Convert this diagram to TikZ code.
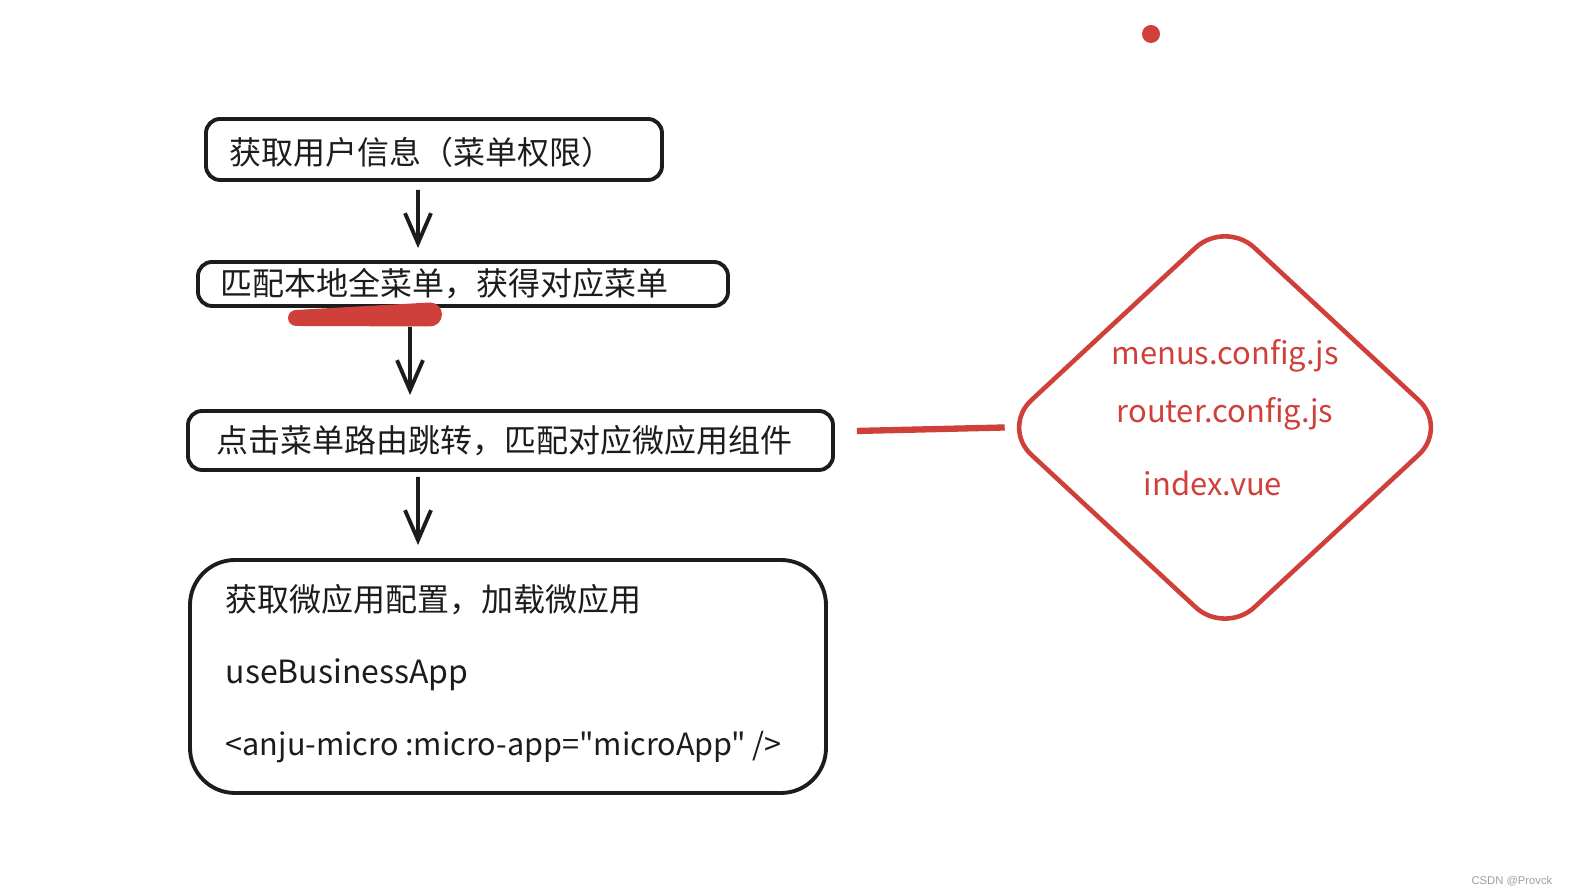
\documentclass[tikz,border=0pt]{standalone}
\usepackage{fontspec}
\newfontfamily\zhfont{Noto Sans CJK SC}
\newfontfamily\creditfont{Liberation Sans}
\usetikzlibrary{arrows.meta,shapes.geometric}
\definecolor{sketchink}{RGB}{28,28,28}
\definecolor{sketchred}{RGB}{207,64,58}

\begin{document}
\begin{tikzpicture}[x=1cm,y=1cm,font=\zhfont\fontsize{9.1}{11}\selectfont,
  stepbox/.style={draw=sketchink,line width=1.1pt,rounded corners=4pt,inner sep=0pt},
  steptext/.style={anchor=west,inner sep=0pt,text=sketchink},
  flowarrow/.style={draw=sketchink,line width=1.1pt,-{Straight Barb[length=0.3cm,width=0.26cm]}},
  cfgdiamond/.style={diamond,draw=sketchred,line width=1.3pt,rounded corners=0.4cm,inner sep=0pt,minimum width=4.48cm,minimum height=4.16cm},
  cfgtext/.style={text=sketchred,align=center,inner sep=0pt,font=\zhfont\fontsize{8.8}{16.5}\selectfont},
  redlink/.style={draw=sketchred,line width=1.8pt}]

\useasboundingbox (0,0) rectangle (15.70,8.96);

\node[stepbox,minimum width=4.56cm,minimum height=0.61cm] (userinfo) at (4.34,7.465) {};
\node[steptext] (userinfo text) at ([xshift=0.25cm,yshift=-0.03cm]userinfo.west) {获取用户信息（菜单权限）};

\node[stepbox,minimum width=5.30cm,minimum height=0.44cm] (menumatch) at (4.63,6.12) {};
\node[steptext] (menumatch text) at ([xshift=0.24cm]menumatch.west) {匹配本地全菜单，获得对应菜单};

\node[stepbox,minimum width=6.45cm,minimum height=0.59cm] (routejump) at (5.105,4.555) {};
\node[steptext] (routejump text) at ([xshift=0.30cm]routejump.west) {点击菜单路由跳转，匹配对应微应用组件};

\node[stepbox,rounded corners=0.45cm,minimum width=6.36cm,minimum height=2.33cm] (loadapp) at (5.08,2.195) {};
\node[steptext,align=left,font=\zhfont\fontsize{9.1}{20.5}\selectfont] (loadapp text) at ([xshift=0.37cm,yshift=0.03cm]loadapp.west)
  {获取微应用配置，加载微应用\\useBusinessApp\\{\fontsize{8.7}{20.5}\selectfont<anju-micro :micro-app="microApp" />}};

\node[cfgdiamond] (configs) at (12.25,4.685) {};
\node[cfgtext] (configs text) at ([yshift=0.10cm]configs.center) {menus.config.js\\router.config.js\\[0.15cm]\hspace*{-0.24cm}index.vue};

\fill[sketchred] (2.96,5.86) -- (4.30,5.935) arc (90:-90:0.12) -- (2.96,5.70) arc (270:90:0.08) -- cycle;

\draw[flowarrow,shorten <=0.08cm,shorten >=0.12cm] ([xshift=-0.16cm]userinfo.south) -- ([xshift=-0.45cm]menumatch.north);
\draw[flowarrow,shorten <=0.19cm,shorten >=0.14cm] ([xshift=-0.53cm]menumatch.south) -- ([xshift=-1.005cm]routejump.north);
\draw[flowarrow,shorten <=0.05cm,shorten >=0.13cm] ([xshift=-0.925cm]routejump.south) -- ([xshift=-0.90cm]loadapp.north);
\draw[redlink,shorten <=0.22cm] ([yshift=0.09cm]routejump.east) -- ([xshift=0.06cm]configs.west);

\fill[sketchred] (11.51,8.62) circle (0.09);
\node[anchor=east,inner sep=0pt,text=gray!75,font=\creditfont\fontsize{3.2}{4}\selectfont] (credit) at (15.53,0.15) {CSDN @Provck};
\end{tikzpicture}
\end{document}
